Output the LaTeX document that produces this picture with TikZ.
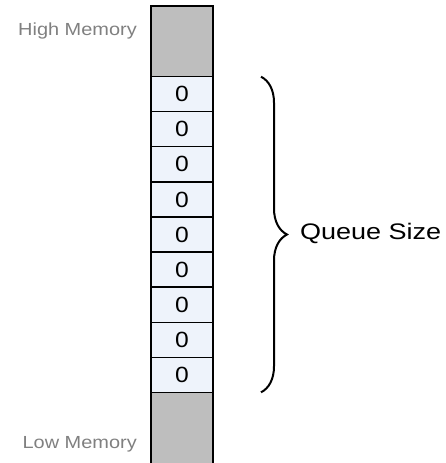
\documentclass[tikz,border=0pt]{standalone}
\usepackage{fontspec}
\setmainfont{Liberation Sans}
\usetikzlibrary{decorations.pathreplacing}
\definecolor{memgray}{HTML}{BEBEBE}
\definecolor{cellblue}{HTML}{EEF3FB}
\definecolor{labelgray}{HTML}{808080}
\begin{document}
\begin{tikzpicture}[x=1pt,y=-1pt,
  graybox/.style={draw=black, line width=1.3pt, fill=memgray, minimum width=62pt, inner sep=0pt, outer sep=0pt},
  cellbox/.style={draw=black, line width=1.3pt, fill=cellblue, minimum width=62pt, minimum height=35.07pt, inner sep=0pt, outer sep=0pt, font=\fontsize{22}{22}\selectfont},
  memlabel/.style={text=labelgray, inner sep=0pt, font=\fontsize{17.5}{17.5}\selectfont},
  bracestyle/.style={decorate, decoration={brace, amplitude=26pt, aspect=0.5}, line width=2pt}
]
\useasboundingbox (0,0) rectangle (445,463);
\node[graybox, minimum height=70.7pt] (top) at (182,41.35) {};
\foreach \i in {1,...,9} {
  \node[cellbox] (c\i) at (182,{76.7+35.07*(\i-0.5)}) {\scalebox{1.12}[1]{0}};
}
\node[graybox, minimum height=72pt] (bot) at (182,428.3) {};
\node[memlabel, anchor=base east] (high) at (137,35) {\scalebox{1.14}[1]{High Memory}};
\node[memlabel, anchor=base east] (low) at (137,448) {\scalebox{1.14}[1]{Low Memory}};
\draw[bracestyle] ([xshift=48pt]c1.north east) -- ([xshift=48pt]c9.south east);
\node[anchor=west, inner sep=0pt, font=\fontsize{22.5}{22.5}\selectfont] (qs) at (300,233) {\scalebox{1.2}[1]{Queue Size}};
\end{tikzpicture}
\end{document}
